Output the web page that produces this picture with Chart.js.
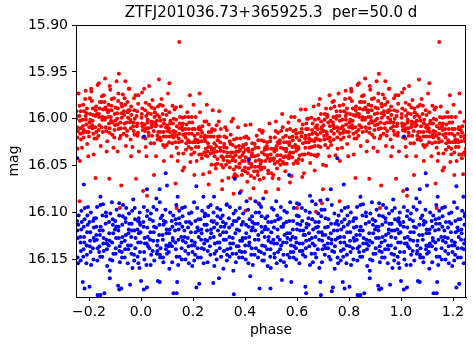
<!DOCTYPE html>
<html>
<head>
<meta charset="utf-8">
<script src="https://cdn.jsdelivr.net/npm/chart.js@4.4.0/dist/chart.umd.min.js"></script>
<style>
html,body{margin:0;padding:0;background:#fff;}
#wrap{width:473px;height:345px;}
</style>
</head>
<body>
<div id="wrap"><canvas id="c" width="473" height="345"></canvas></div>
<script>
// Title and axis labels
const chartTitle = "ZTFJ201036.73+365925.3  per=50.0 d";
const xLabel = "phase";
const yLabel = "mag";
const xTicks = [-0.2, 0.0, 0.2, 0.4, 0.6, 0.8, 1.0, 1.2];
const yTicks = [15.90, 15.95, 16.00, 16.05, 16.10, 16.15];

// Red band observations, phase in [0,1): [phase, mag]
const redSetA = [
[0.002,15.999],[0.007,16.012],[0.005,15.989],[0.004,16.005],[0.008,16.020],[0.003,15.995],[0.006,16.008],
[0.029,16.015],[0.026,16.001],[0.031,15.985],[0.028,16.010],[0.025,16.004],[0.030,16.018],[0.027,15.994],
[0.052,15.998],[0.055,16.008],[0.050,16.026],[0.053,15.993],[0.049,16.013],[0.054,16.004],[0.051,15.989],
[0.072,16.020],[0.075,16.002],[0.077,16.008],[0.073,15.985],[0.074,16.014],[0.076,16.023],[0.071,15.998],
[0.100,16.007],[0.097,16.019],[0.098,15.996],[0.101,16.013],[0.095,15.991],[0.099,16.028],[0.096,16.009],
[0.122,16.017],[0.126,16.000],[0.120,16.026],[0.123,16.005],[0.125,16.013],[0.121,15.986],[0.124,16.020],
[0.150,15.998],[0.147,16.016],[0.145,16.021],[0.148,16.010],[0.144,16.037],[0.149,16.005],[0.146,16.025],
[0.172,16.016],[0.169,15.998],[0.174,16.026],[0.171,16.020],[0.175,16.006],[0.173,16.033],[0.170,16.011],
[0.194,16.032],[0.198,16.011],[0.196,16.016],[0.193,16.038],[0.197,16.004],[0.199,16.025],[0.195,15.998],
[0.222,16.011],[0.220,16.025],[0.224,16.038],[0.219,16.016],[0.221,16.030],[0.223,16.009],[0.218,16.023],
[0.249,16.032],[0.244,16.003],[0.247,16.024],[0.243,16.036],[0.246,16.018],[0.248,16.039],[0.245,16.021],
[0.270,16.014],[0.272,16.033],[0.267,16.019],[0.271,16.049],[0.269,16.030],[0.273,16.011],[0.268,16.037],
[0.292,16.035],[0.294,16.043],[0.296,16.019],[0.290,16.029],[0.293,16.048],[0.295,16.023],[0.291,16.007],
[0.320,16.027],[0.316,16.052],[0.318,16.035],[0.321,16.019],[0.315,16.041],[0.319,16.030],[0.317,16.044],
[0.340,16.046],[0.344,16.027],[0.342,16.052],[0.345,16.017],[0.343,16.040],[0.346,16.036],[0.341,16.024],
[0.367,16.035],[0.363,16.045],[0.368,16.021],[0.366,16.051],[0.365,16.030],[0.369,16.061],[0.364,16.039],
[0.391,16.055],[0.393,16.028],[0.389,16.045],[0.394,16.036],[0.388,16.060],[0.392,16.030],[0.390,16.039],
[0.412,16.032],[0.417,16.043],[0.414,16.053],[0.413,16.021],[0.416,16.047],[0.411,16.058],[0.415,16.035],
[0.441,16.045],[0.437,16.027],[0.439,16.051],[0.435,16.056],[0.438,16.040],[0.440,16.031],[0.436,16.063],
[0.463,16.023],[0.461,16.052],[0.465,16.036],[0.460,16.048],[0.466,16.015],[0.464,16.045],[0.462,16.054],
[0.486,16.039],[0.489,16.055],[0.484,16.029],[0.488,16.042],[0.487,16.032],[0.490,16.058],[0.485,16.025],
[0.514,16.048],[0.512,16.032],[0.510,16.044],[0.515,16.020],[0.509,16.060],[0.513,16.035],[0.511,16.042],
[0.533,16.026],[0.537,16.039],[0.539,16.013],[0.535,16.044],[0.538,16.031],[0.536,16.049],[0.534,16.023],
[0.560,16.048],[0.557,16.018],[0.559,16.032],[0.562,16.025],[0.556,16.040],[0.561,16.012],[0.558,16.035],
[0.584,16.023],[0.587,16.048],[0.583,16.019],[0.581,16.041],[0.585,16.013],[0.582,16.030],[0.586,16.036],
[0.606,16.032],[0.609,16.023],[0.611,16.039],[0.608,16.002],[0.605,16.030],[0.610,16.015],[0.607,16.043],
[0.635,16.011],[0.632,16.031],[0.633,16.018],[0.630,16.038],[0.636,16.005],[0.634,16.025],[0.631,16.021],
[0.656,16.023],[0.660,16.005],[0.654,16.038],[0.658,16.012],[0.657,16.030],[0.659,16.016],[0.655,15.999],
[0.683,16.000],[0.680,16.022],[0.678,16.017],[0.681,16.038],[0.677,16.007],[0.682,16.029],[0.679,16.011],
[0.705,16.022],[0.702,16.007],[0.707,15.995],[0.704,16.018],[0.708,16.028],[0.706,16.001],[0.703,16.013],
[0.727,16.008],[0.731,16.028],[0.729,16.002],[0.726,16.020],[0.730,15.989],[0.732,16.013],[0.728,16.024],
[0.755,16.020],[0.753,15.997],[0.757,16.013],[0.752,15.992],[0.754,16.009],[0.756,16.032],[0.751,16.000],
[0.781,15.992],[0.776,16.008],[0.779,16.020],[0.775,16.001],[0.778,15.985],[0.780,16.012],[0.777,16.015],
[0.802,16.004],[0.804,15.995],[0.799,16.014],[0.803,15.978],[0.801,16.009],[0.805,16.001],[0.800,16.019],
[0.826,15.991],[0.828,16.014],[0.830,15.995],[0.824,16.009],[0.827,15.987],[0.829,16.021],[0.825,15.997],
[0.853,16.014],[0.849,15.982],[0.851,16.001],[0.854,15.990],[0.848,16.009],[0.852,15.998],[0.850,15.976],
[0.873,15.993],[0.877,16.005],[0.875,15.985],[0.878,16.015],[0.876,15.991],[0.879,16.010],[0.874,15.998],
[0.900,16.007],[0.896,15.978],[0.901,16.002],[0.899,15.995],[0.898,16.012],[0.902,15.988],[0.897,16.020],
[0.924,15.984],[0.926,15.999],[0.922,16.018],[0.927,15.987],[0.921,16.004],[0.925,15.994],[0.923,16.010],
[0.946,16.004],[0.951,15.991],[0.948,15.982],[0.947,16.013],[0.950,15.999],[0.945,16.018],[0.949,15.993],
[0.976,16.000],[0.972,16.013],[0.974,15.991],[0.970,16.008],[0.973,15.978],[0.975,16.017],[0.971,16.004]
];
const redSetB = [
[0.019,16.010],[0.016,15.991],[0.014,16.006],[0.017,16.021],[0.020,15.997],[0.018,15.983],[0.015,16.013],
[0.038,15.995],[0.043,16.018],[0.041,16.003],[0.039,16.009],[0.040,15.988],[0.037,16.026],[0.042,16.006],
[0.063,16.018],[0.061,16.002],[0.065,15.987],[0.066,16.014],[0.060,16.007],[0.062,15.996],[0.064,16.022],
[0.088,16.005],[0.085,16.028],[0.083,15.995],[0.086,16.014],[0.089,16.001],[0.087,16.019],[0.084,15.986],
[0.108,16.025],[0.113,16.002],[0.111,16.014],[0.109,15.993],[0.110,16.019],[0.107,16.010],[0.112,16.005],
[0.135,16.001],[0.133,16.014],[0.137,16.031],[0.138,16.008],[0.132,16.025],[0.134,15.988],[0.136,16.018],
[0.162,16.017],[0.159,15.999],[0.157,16.024],[0.160,16.012],[0.163,16.037],[0.161,16.005],[0.158,16.008],
[0.182,15.998],[0.187,16.025],[0.185,16.016],[0.183,16.030],[0.184,16.011],[0.181,16.023],[0.186,16.004],
[0.208,16.025],[0.206,16.018],[0.210,15.998],[0.211,16.030],[0.205,16.036],[0.207,16.011],[0.209,16.022],
[0.235,16.015],[0.232,16.038],[0.230,16.012],[0.233,16.024],[0.236,16.008],[0.234,16.042],[0.231,16.019],
[0.256,16.035],[0.261,16.006],[0.259,16.030],[0.257,16.019],[0.258,16.026],[0.255,16.040],[0.260,16.014],
[0.282,16.026],[0.280,16.036],[0.284,16.012],[0.285,16.049],[0.279,16.019],[0.281,16.032],[0.283,16.040],
[0.308,16.049],[0.305,16.025],[0.303,16.019],[0.306,16.034],[0.309,16.040],[0.307,16.011],[0.304,16.031],
[0.328,16.020],[0.333,16.045],[0.331,16.040],[0.329,16.031],[0.330,16.012],[0.327,16.049],[0.332,16.036],
[0.355,16.041],[0.353,16.028],[0.357,16.054],[0.358,16.022],[0.352,16.044],[0.354,16.036],[0.356,16.062],
[0.381,16.033],[0.378,16.052],[0.376,16.035],[0.379,16.048],[0.382,16.021],[0.380,16.041],[0.377,16.029],
[0.400,16.052],[0.405,16.019],[0.403,16.041],[0.401,16.056],[0.402,16.033],[0.399,16.045],[0.404,16.027],
[0.426,16.040],[0.424,16.048],[0.428,16.026],[0.429,16.033],[0.423,16.061],[0.425,16.051],[0.427,16.037],
[0.453,16.051],[0.450,16.039],[0.448,16.056],[0.451,16.023],[0.454,16.044],[0.452,16.031],[0.449,16.060],
[0.473,16.024],[0.478,16.045],[0.476,16.033],[0.474,16.052],[0.475,16.038],[0.472,16.063],[0.477,16.031],
[0.499,16.038],[0.497,16.024],[0.501,16.058],[0.502,16.032],[0.496,16.045],[0.498,16.020],[0.500,16.043],
[0.526,16.025],[0.523,16.053],[0.521,16.033],[0.524,16.039],[0.527,16.015],[0.525,16.046],[0.522,16.029],
[0.546,16.046],[0.551,16.025],[0.549,16.041],[0.547,16.020],[0.548,16.032],[0.545,16.009],[0.550,16.048],
[0.571,16.025],[0.569,16.039],[0.573,16.011],[0.574,16.036],[0.568,16.042],[0.570,16.028],[0.572,16.020],
[0.598,16.034],[0.595,16.012],[0.593,16.028],[0.596,16.045],[0.599,16.020],[0.597,16.016],[0.594,16.030],
[0.618,16.011],[0.623,16.026],[0.621,16.038],[0.619,16.015],[0.620,16.044],[0.617,16.019],[0.622,16.006],
[0.645,16.025],[0.643,16.000],[0.647,16.017],[0.648,16.031],[0.642,16.011],[0.644,16.037],[0.646,16.021],
[0.671,16.009],[0.668,16.029],[0.666,16.024],[0.669,16.001],[0.672,16.021],[0.670,16.015],[0.667,16.039],
[0.690,16.030],[0.695,16.009],[0.693,16.003],[0.691,16.015],[0.692,15.995],[0.689,16.023],[0.694,16.011],
[0.717,15.996],[0.715,16.017],[0.719,16.031],[0.720,16.004],[0.714,16.014],[0.716,15.998],[0.718,16.021],
[0.743,16.010],[0.740,15.998],[0.738,16.004],[0.741,16.022],[0.744,15.987],[0.742,16.016],[0.739,16.007],
[0.764,15.986],[0.769,16.022],[0.767,16.010],[0.765,16.002],[0.766,16.016],[0.763,15.997],[0.768,15.992],
[0.790,16.014],[0.788,16.001],[0.792,15.989],[0.793,16.027],[0.787,15.997],[0.789,16.006],[0.791,15.994],
[0.816,15.996],[0.813,16.010],[0.811,15.981],[0.814,16.002],[0.817,16.016],[0.815,15.989],[0.812,16.007],
[0.837,16.012],[0.842,15.982],[0.840,16.007],[0.838,15.995],[0.839,15.998],[0.836,16.018],[0.841,15.989],
[0.863,15.988],[0.861,16.001],[0.865,15.990],[0.866,16.013],[0.860,15.982],[0.862,15.999],[0.864,16.009],
[0.889,16.017],[0.886,15.986],[0.884,15.998],[0.887,15.991],[0.890,16.004],[0.888,15.979],[0.885,16.002],
[0.909,15.994],[0.914,16.011],[0.912,15.981],[0.910,16.006],[0.911,15.989],[0.908,16.000],[0.913,15.973],
[0.936,16.005],[0.934,15.992],[0.938,16.010],[0.939,15.985],[0.933,16.016],[0.935,15.996],[0.937,15.978],
[0.962,15.987],[0.959,16.001],[0.957,15.991],[0.960,16.022],[0.963,15.996],[0.961,16.010],[0.958,16.004],
[0.984,16.008],[0.989,15.984],[0.987,16.018],[0.985,15.992],[0.986,16.005],[0.983,15.997],[0.988,16.015]
];
const redTails = [
[0.004,15.972],[0.018,16.030],[0.044,15.980],[0.058,16.040],[0.079,15.979],[0.091,16.030],[0.104,15.973],
[0.117,16.040],[0.129,15.990],[0.141,16.045],[0.153,15.987],[0.166,16.052],[0.178,15.993],[0.190,16.046],
[0.202,15.985],[0.214,16.045],[0.227,15.993],[0.239,16.059],[0.251,16.003],[0.263,16.057],[0.276,15.991],
[0.288,16.053],[0.299,16.003],[0.312,16.066],[0.324,16.009],[0.336,16.063],[0.348,16.003],[0.361,16.059],
[0.373,16.009],[0.385,16.077],[0.397,16.020],[0.409,16.067],[0.421,16.006],[0.433,16.074],[0.445,16.018],
[0.457,16.065],[0.469,16.013],[0.481,16.078],[0.494,16.005],[0.506,16.063],[0.518,16.013],[0.530,16.064],
[0.543,15.995],[0.555,16.056],[0.567,16.004],[0.579,16.061],[0.591,15.998],[0.603,16.047],[0.615,15.990],
[0.627,16.058],[0.639,16.000],[0.651,16.047],[0.664,15.987],[0.676,16.040],[0.688,15.979],[0.700,16.049],
[0.712,15.989],[0.724,16.040],[0.736,15.982],[0.748,16.039],[0.760,15.973],[0.773,16.031],[0.785,15.979],
[0.797,16.040],[0.809,15.971],[0.821,16.021],[0.833,15.964],[0.845,16.029],[0.857,15.975],[0.870,16.024],
[0.882,15.969],[0.894,16.031],[0.906,15.960],[0.918,16.021],[0.930,15.974],[0.942,16.029],[0.955,15.968],
[0.967,16.030],[0.979,15.975],[0.992,16.035]
];
const redOutliers = [
[0.862,15.957],[0.915,15.952],[0.880,15.965],[0.940,15.960],[0.808,15.968],[0.031,15.965],[0.069,15.958],
[0.109,15.962],[0.147,15.918],[0.012,15.968],[0.953,15.968],[0.838,15.962],[0.725,15.975],[0.683,15.985],
[0.633,15.990],[0.578,15.998],[0.456,16.012],[0.402,16.007],[0.354,16.000],[0.301,15.992],[0.253,15.985],
[0.188,15.975],[0.225,15.973],[0.787,15.970],[0.990,15.975],[0.742,15.981],[0.519,16.003],
[0.021,16.040],[0.088,16.045],[0.160,16.055],[0.205,16.060],[0.260,16.070],[0.312,16.075],[0.356,16.080],
[0.420,16.085],[0.452,16.090],[0.480,16.078],[0.528,16.075],[0.573,16.068],[0.620,16.062],[0.668,16.055],
[0.712,16.050],[0.765,16.045],[0.818,16.038],[0.868,16.035],[0.910,16.035],[0.962,16.040],[0.402,16.098],
[0.600,16.095],[0.050,16.060],[0.700,16.075],
[0.919,16.095],[0.281,16.109],[0.137,16.095],[0.673,16.099],[0.658,16.107],[0.696,16.090],[0.825,16.063],
[0.878,16.064],[0.924,16.071],[0.981,16.064],[0.008,16.077],[0.023,16.082],[0.764,16.088],[0.133,16.069]
];

// Blue band observations, phase in [0,1): [phase, mag]
const blueSetA = [
[0.010,16.115],[0.013,16.150],[0.015,16.133],[0.011,16.094],[0.012,16.142],[0.014,16.127],[0.009,16.110],
[0.037,16.156],[0.034,16.107],[0.036,16.121],[0.039,16.145],[0.033,16.138],[0.038,16.101],[0.035,16.129],
[0.061,16.144],[0.064,16.130],[0.059,16.085],[0.062,16.135],[0.058,16.116],[0.063,16.141],[0.060,16.097],
[0.082,16.103],[0.086,16.153],[0.087,16.113],[0.084,16.129],[0.088,16.109],[0.085,16.148],[0.083,16.124],
[0.111,16.133],[0.108,16.122],[0.109,16.160],[0.112,16.100],[0.106,16.136],[0.110,16.118],[0.107,16.142],
[0.133,16.107],[0.137,16.147],[0.131,16.119],[0.134,16.139],[0.136,16.092],[0.132,16.132],[0.135,16.112],
[0.161,16.130],[0.158,16.095],[0.156,16.138],[0.159,16.115],[0.155,16.126],[0.160,16.104],[0.157,16.150],
[0.183,16.136],[0.180,16.127],[0.185,16.101],[0.182,16.144],[0.186,16.110],[0.184,16.154],[0.181,16.116],
[0.205,16.151],[0.209,16.109],[0.207,16.132],[0.204,16.089],[0.208,16.145],[0.210,16.121],[0.206,16.135],
[0.233,16.122],[0.231,16.129],[0.235,16.098],[0.230,16.148],[0.232,16.118],[0.234,16.138],[0.229,16.107],
[0.259,16.094],[0.254,16.119],[0.257,16.141],[0.253,16.113],[0.256,16.153],[0.258,16.103],[0.255,16.130],
[0.281,16.116],[0.283,16.144],[0.278,16.110],[0.282,16.157],[0.280,16.126],[0.284,16.133],[0.279,16.100],
[0.304,16.124],[0.306,16.106],[0.308,16.147],[0.302,16.132],[0.305,16.097],[0.307,16.115],[0.303,16.138],
[0.331,16.145],[0.327,16.129],[0.329,16.092],[0.332,16.139],[0.326,16.112],[0.330,16.151],[0.328,16.121],
[0.351,16.113],[0.355,16.162],[0.353,16.127],[0.356,16.101],[0.354,16.133],[0.357,16.109],[0.352,16.144],
[0.379,16.141],[0.375,16.136],[0.380,16.095],[0.378,16.119],[0.377,16.148],[0.381,16.130],[0.376,16.106],
[0.403,16.150],[0.405,16.122],[0.401,16.135],[0.406,16.088],[0.400,16.142],[0.404,16.113],[0.402,16.127],
[0.425,16.119],[0.430,16.156],[0.427,16.104],[0.426,16.138],[0.429,16.116],[0.424,16.145],[0.428,16.110],
[0.455,16.091],[0.451,16.124],[0.453,16.141],[0.449,16.112],[0.452,16.129],[0.454,16.100],[0.450,16.148],
[0.476,16.126],[0.474,16.144],[0.478,16.115],[0.473,16.151],[0.479,16.106],[0.477,16.136],[0.475,16.118],
[0.499,16.159],[0.502,16.110],[0.497,16.147],[0.501,16.121],[0.500,16.132],[0.503,16.095],[0.498,16.139],
[0.527,16.142],[0.525,16.118],[0.523,16.133],[0.528,16.107],[0.522,16.154],[0.526,16.126],[0.524,16.103],
[0.546,16.115],[0.550,16.153],[0.552,16.124],[0.548,16.145],[0.551,16.098],[0.549,16.112],[0.547,16.132],
[0.575,16.129],[0.572,16.148],[0.574,16.089],[0.577,16.135],[0.571,16.109],[0.576,16.142],[0.573,16.122],
[0.598,16.132],[0.601,16.112],[0.597,16.150],[0.595,16.127],[0.599,16.103],[0.596,16.138],[0.600,16.118],
[0.620,16.109],[0.623,16.145],[0.625,16.124],[0.622,16.133],[0.619,16.095],[0.624,16.119],[0.621,16.141],
[0.649,16.100],[0.646,16.122],[0.647,16.136],[0.644,16.106],[0.650,16.156],[0.648,16.129],[0.645,16.113],
[0.670,16.110],[0.674,16.148],[0.668,16.135],[0.672,16.091],[0.671,16.126],[0.673,16.116],[0.669,16.144],
[0.699,16.124],[0.696,16.153],[0.694,16.097],[0.697,16.130],[0.693,16.104],[0.698,16.139],[0.695,16.121],
[0.720,16.138],[0.717,16.086],[0.722,16.127],[0.719,16.115],[0.723,16.147],[0.721,16.107],[0.718,16.133],
[0.743,16.142],[0.747,16.112],[0.745,16.160],[0.742,16.119],[0.746,16.136],[0.748,16.129],[0.744,16.101],
[0.770,16.118],[0.768,16.151],[0.772,16.110],[0.767,16.132],[0.769,16.141],[0.771,16.098],[0.766,16.126],
[0.796,16.094],[0.791,16.135],[0.794,16.103],[0.790,16.154],[0.793,16.121],[0.795,16.113],[0.792,16.145],
[0.818,16.127],[0.820,16.106],[0.815,16.138],[0.819,16.116],[0.817,16.150],[0.821,16.130],[0.816,16.109],
[0.841,16.119],[0.843,16.147],[0.845,16.115],[0.839,16.142],[0.842,16.124],[0.844,16.092],[0.840,16.136],
[0.869,16.139],[0.865,16.100],[0.867,16.129],[0.870,16.157],[0.864,16.112],[0.868,16.133],[0.866,16.104],
[0.888,16.089],[0.892,16.113],[0.890,16.151],[0.893,16.122],[0.891,16.107],[0.894,16.144],[0.889,16.132],
[0.917,16.141],[0.913,16.119],[0.918,16.136],[0.916,16.103],[0.915,16.127],[0.919,16.153],[0.914,16.115],
[0.940,16.106],[0.942,16.124],[0.938,16.130],[0.943,16.095],[0.937,16.148],[0.941,16.110],[0.939,16.139],
[0.962,16.126],[0.967,16.159],[0.964,16.112],[0.963,16.144],[0.966,16.098],[0.961,16.135],[0.965,16.119],
[0.992,16.122],[0.988,16.109],[0.990,16.154],[0.986,16.118],[0.989,16.132],[0.991,16.106],[0.987,16.147]
];
const blueSetB = [
[0.026,16.126],[0.023,16.104],[0.021,16.156],[0.024,16.116],[0.027,16.136],[0.025,16.098],[0.022,16.133],
[0.046,16.109],[0.051,16.151],[0.049,16.121],[0.047,16.130],[0.048,16.094],[0.045,16.141],[0.050,16.115],
[0.073,16.145],[0.071,16.113],[0.075,16.138],[0.076,16.106],[0.070,16.124],[0.072,16.089],[0.074,16.148],
[0.099,16.118],[0.096,16.139],[0.094,16.097],[0.097,16.135],[0.100,16.144],[0.098,16.122],[0.095,16.110],
[0.119,16.136],[0.124,16.103],[0.122,16.127],[0.120,16.153],[0.121,16.115],[0.118,16.109],[0.123,16.130],
[0.146,16.106],[0.144,16.129],[0.148,16.147],[0.149,16.112],[0.143,16.156],[0.145,16.118],[0.147,16.098],
[0.172,16.132],[0.169,16.094],[0.167,16.119],[0.170,16.141],[0.173,16.110],[0.171,16.150],[0.168,16.126],
[0.193,16.112],[0.198,16.142],[0.196,16.135],[0.194,16.100],[0.195,16.130],[0.192,16.121],[0.197,16.157],
[0.219,16.148],[0.217,16.116],[0.221,16.107],[0.222,16.126],[0.216,16.095],[0.218,16.138],[0.220,16.119],
[0.246,16.101],[0.243,16.133],[0.241,16.154],[0.244,16.113],[0.247,16.129],[0.245,16.104],[0.242,16.139],
[0.266,16.127],[0.271,16.109],[0.269,16.118],[0.267,16.145],[0.268,16.092],[0.265,16.136],[0.270,16.122],
[0.293,16.095],[0.291,16.150],[0.295,16.132],[0.296,16.119],[0.290,16.141],[0.292,16.112],[0.294,16.104],
[0.319,16.141],[0.316,16.121],[0.314,16.103],[0.317,16.160],[0.320,16.115],[0.318,16.129],[0.315,16.110],
[0.339,16.116],[0.344,16.138],[0.342,16.094],[0.340,16.126],[0.341,16.147],[0.338,16.106],[0.343,16.133],
[0.366,16.144],[0.364,16.098],[0.368,16.136],[0.369,16.118],[0.363,16.122],[0.365,16.153],[0.367,16.109],
[0.392,16.110],[0.389,16.130],[0.387,16.113],[0.390,16.148],[0.393,16.101],[0.391,16.127],[0.388,16.142],
[0.413,16.154],[0.418,16.107],[0.416,16.126],[0.414,16.115],[0.415,16.135],[0.412,16.097],[0.417,16.132],
[0.439,16.119],[0.437,16.145],[0.441,16.100],[0.442,16.138],[0.436,16.112],[0.438,16.129],[0.440,16.088],
[0.466,16.135],[0.463,16.115],[0.461,16.142],[0.464,16.104],[0.467,16.151],[0.465,16.121],[0.462,16.094],
[0.486,16.104],[0.491,16.126],[0.489,16.110],[0.487,16.157],[0.488,16.118],[0.485,16.139],[0.490,16.130],
[0.512,16.133],[0.510,16.097],[0.514,16.148],[0.515,16.109],[0.509,16.129],[0.511,16.116],[0.513,16.144],
[0.539,16.135],[0.536,16.106],[0.534,16.129],[0.537,16.151],[0.540,16.115],[0.538,16.094],[0.535,16.139],
[0.559,16.110],[0.564,16.145],[0.562,16.122],[0.560,16.132],[0.561,16.100],[0.558,16.157],[0.563,16.127],
[0.586,16.142],[0.584,16.118],[0.588,16.095],[0.589,16.136],[0.583,16.126],[0.585,16.109],[0.587,16.148],
[0.612,16.119],[0.609,16.154],[0.607,16.104],[0.610,16.133],[0.613,16.113],[0.611,16.141],[0.608,16.091],
[0.632,16.147],[0.637,16.112],[0.635,16.130],[0.633,16.098],[0.634,16.138],[0.631,16.124],[0.636,16.116],
[0.659,16.107],[0.657,16.127],[0.661,16.153],[0.662,16.118],[0.656,16.144],[0.658,16.088],[0.660,16.133],
[0.685,16.129],[0.682,16.101],[0.680,16.139],[0.683,16.121],[0.686,16.159],[0.684,16.110],[0.681,16.115],
[0.706,16.097],[0.711,16.138],[0.709,16.124],[0.707,16.145],[0.708,16.116],[0.705,16.135],[0.710,16.106],
[0.732,16.133],[0.730,16.122],[0.734,16.092],[0.735,16.141],[0.729,16.150],[0.731,16.112],[0.733,16.129],
[0.759,16.113],[0.756,16.148],[0.754,16.109],[0.757,16.127],[0.760,16.103],[0.758,16.154],[0.755,16.119],
[0.779,16.139],[0.784,16.095],[0.782,16.132],[0.780,16.115],[0.781,16.126],[0.778,16.147],[0.783,16.107],
[0.805,16.121],[0.803,16.136],[0.807,16.100],[0.808,16.156],[0.802,16.110],[0.804,16.130],[0.806,16.142],
[0.832,16.151],[0.829,16.115],[0.827,16.106],[0.830,16.129],[0.833,16.138],[0.831,16.094],[0.828,16.124],
[0.852,16.103],[0.857,16.141],[0.855,16.133],[0.853,16.119],[0.854,16.091],[0.851,16.147],[0.856,16.127],
[0.879,16.130],[0.877,16.110],[0.881,16.150],[0.882,16.101],[0.876,16.135],[0.878,16.122],[0.880,16.162],
[0.905,16.115],[0.902,16.144],[0.900,16.118],[0.903,16.138],[0.906,16.097],[0.904,16.127],[0.901,16.109],
[0.926,16.142],[0.931,16.092],[0.929,16.126],[0.927,16.148],[0.928,16.113],[0.925,16.132],[0.930,16.104],
[0.952,16.122],[0.950,16.135],[0.954,16.101],[0.955,16.112],[0.949,16.154],[0.951,16.139],[0.953,16.118],
[0.978,16.138],[0.975,16.119],[0.973,16.145],[0.976,16.095],[0.979,16.127],[0.977,16.107],[0.974,16.151],
[0.995,16.100],[0.999,16.132],[0.997,16.113],[0.996,16.142],[0.998,16.121],[0.994,16.159],[0.993,16.110]
];
const blueOutliers = [
[0.783,16.181],[0.844,16.188],[0.859,16.186],[0.924,16.181],[0.000,16.173],[0.023,16.180],[0.137,16.186],
[0.139,16.174],[0.072,16.174],[0.278,16.175],[0.635,16.186],[0.692,16.188],[0.734,16.184],[0.776,16.174],
[0.833,16.188],[0.916,16.182],[0.011,16.182],[0.125,16.186],[0.065,16.173],[0.224,16.176],[0.498,16.181],
[0.578,16.174],[0.632,16.179],[0.690,16.174],[0.738,16.180],[0.802,16.179],[0.912,16.178],[0.213,16.180],
[0.958,16.177],[0.300,16.170],[0.357,16.187],[0.456,16.181],[0.542,16.172],[0.420,16.168],[0.880,16.170],
[0.012,16.019],[0.755,16.042],[0.780,16.070],[0.844,16.083],[0.095,16.058],[0.100,16.071],[0.023,16.075],
[0.213,16.072],[0.361,16.064],[0.414,16.044],[0.141,16.083],[0.281,16.083],[0.570,16.060],[0.730,16.075],
[0.072,16.075],[0.916,16.090],[0.240,16.083],[0.380,16.079],[0.470,16.085],[0.520,16.088],[0.650,16.082],
[0.600,16.090],[0.690,16.087],[0.330,16.091],[0.970,16.086]
];

// Phase-folded plot shows phase -0.25..1.25: points repeated one cycle earlier / later
function fold(list) {
  const out = [];
  for (const [p, m] of list) {
    out.push({x: p, y: m});
    if (p >= 0.75) out.push({x: p - 1, y: m});
    if (p < 0.25) out.push({x: p + 1, y: m});
  }
  return out;
}

const FONT = 'DejaVu Sans';
const framePlugin = {
  id: 'frame',
  afterDatasetsDraw(chart) {
    const {ctx, chartArea: a} = chart;
    ctx.save();
    ctx.strokeStyle = '#000';
    ctx.lineWidth = 1;
    ctx.strokeRect(Math.round(a.left) + 0.5, Math.round(a.top) + 0.5,
      Math.round(a.right - a.left) - 1, Math.round(a.bottom - a.top));
    ctx.restore();
  },
  afterDraw(chart) {
    const {ctx, chartArea: a} = chart;
    ctx.save();
    ctx.fillStyle = '#000';
    ctx.font = '15px "' + FONT + '"';
    ctx.textAlign = 'center';
    ctx.textBaseline = 'middle';
    ctx.fillText(chartTitle, (a.left + a.right) / 2, 13);
    ctx.restore();
  }
};

const fmt = (d) => (v) => v.toFixed(d).replace('-', '\u2212');

new Chart(document.getElementById('c'), {
  type: 'scatter',
  data: {
    datasets: [
      {label: 'blue', data: fold(blueSetA.concat(blueSetB, blueOutliers)), backgroundColor: '#0000ff',
       pointRadius: 2, pointHoverRadius: 2, borderWidth: 0},
      {label: 'red', data: fold(redSetA.concat(redSetB, redTails, redOutliers)), backgroundColor: '#ff0000',
       pointRadius: 2, pointHoverRadius: 2, borderWidth: 0}
    ]
  },
  options: {
    responsive: false,
    animation: false,
    events: [],
    layout: {padding: {left: 0, right: 7, top: 25, bottom: 0}},
    plugins: {
      legend: {display: false},
      tooltip: {enabled: false},
      title: {display: false}
    },
    scales: {
      x: {
        type: 'linear', min: -0.25, max: 1.25,
        afterFit(s) { s.height = 48; },
        afterBuildTicks(s) { s.ticks = xTicks.map(v => ({value: v})); },
        ticks: {callback: fmt(1), color: '#000', font: {family: FONT, size: 14}, padding: 3, maxRotation: 0},
        grid: {display: true, drawOnChartArea: false, drawTicks: true, tickLength: 4, color: '#000', lineWidth: 1},
        border: {display: true, color: '#000', width: 1},
        title: {display: true, text: xLabel, color: '#000', font: {family: FONT, size: 14}, padding: {top: 0, bottom: 6}}
      },
      y: {
        type: 'linear', min: 15.90, max: 16.19, reverse: true,
        afterFit(s) { s.width = 76; },
        afterBuildTicks(s) { s.ticks = yTicks.map(v => ({value: v})); },
        ticks: {callback: fmt(2), color: '#000', font: {family: FONT, size: 14}, padding: 4},
        grid: {display: true, drawOnChartArea: false, drawTicks: true, tickLength: 4, color: '#000', lineWidth: 1},
        border: {display: true, color: '#000', width: 1},
        title: {display: true, text: yLabel, color: '#000', font: {family: FONT, size: 14}, padding: {top: 6, bottom: 0}}
      }
    }
  },
  plugins: [framePlugin]
});
</script>
</body>
</html>
